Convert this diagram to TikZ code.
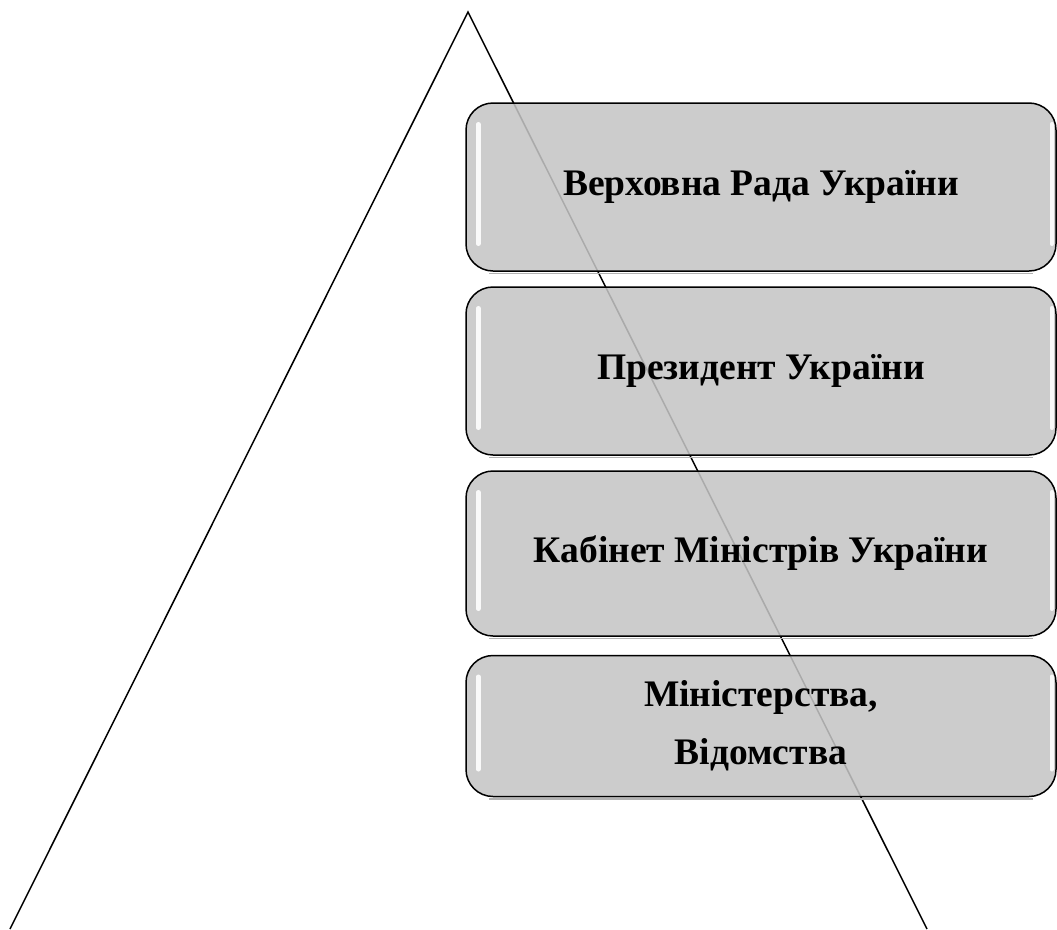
\documentclass[tikz,border=0pt]{standalone}
\usepackage{fontspec}
\setmainfont{Liberation Serif}
\usetikzlibrary{calc}
\begin{document}
\begin{tikzpicture}[x=1pt,y=-1pt,
  box/.style={draw=black, line width=1.5pt, rounded corners=27pt,
    fill={rgb,255:red,196;green,196;blue,196}, fill opacity=0.87, text opacity=1,
    minimum width=590pt, inner sep=0pt, align=center,
    font=\fontsize{37.5}{58}\selectfont\bfseries},
  tri/.style={line width=1.5pt, black},
  hl/.style={white, line width=4.5pt, line cap=round, opacity=0.9},
  shade/.style={black!30, line width=1.5pt}]
\useasboundingbox (0,0) rectangle (1057,929);
\coordinate (apex) at (468,12);
\coordinate (bl) at (10,929);
\coordinate (br) at (927,929);
\draw[tri] (bl) -- (apex) -- (br);
\node[box, minimum height=168pt] (b1) at (761,187) {Верховна Рада України};
\node[box, minimum height=168pt] (b2) at (761,371) {Президент України};
\node[box, minimum height=165pt] (b3) at (761,553.5) {Кабінет Міністрів України};
\node[box, minimum height=141pt] (b4) at (761,726) {Міністерства,\\Відомства};
\foreach \b in {b1,b2,b3,b4}{
  \draw[hl] ($(\b.north west)+(13,22)$) -- ($(\b.south west)+(13,-28)$);
  \draw[hl] ($(\b.north east)+(-5,22)$) -- ($(\b.south east)+(-5,-28)$);
  \draw[shade] ($(\b.south west)+(24,1.6)$) -- ($(\b.south east)+(-24,1.6)$);
}
\end{tikzpicture}
\end{document}
